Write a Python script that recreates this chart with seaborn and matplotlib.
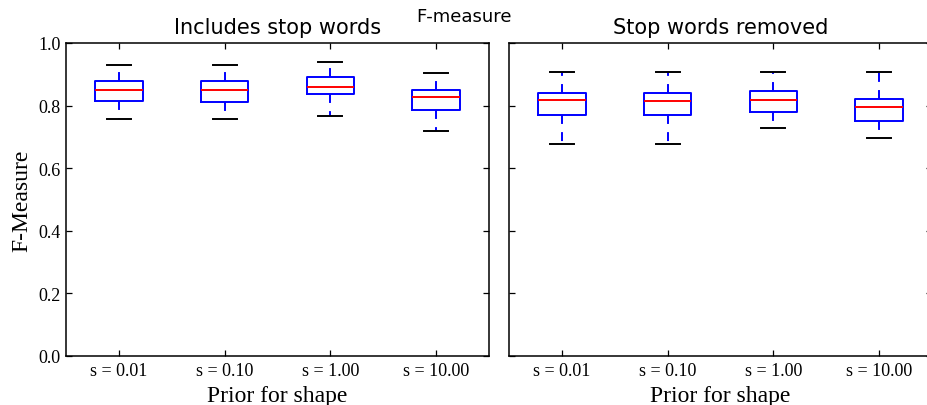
import matplotlib
matplotlib.use("Agg")
import matplotlib.pyplot as plt
import seaborn as sns
import pandas as pd

priors = ["s = 0.01", "s = 0.10", "s = 1.00", "s = 10.00"]
y_ticks = [0.0, 0.2, 0.4, 0.6, 0.8, 1.0]
y_tick_labels = ["0.0", "0.2", "0.4", "0.6", "0.8", "1.0"]

# Five-number summaries: [lower cap, Q1, median, Q3, upper cap]
includes_s001 = [0.758, 0.816, 0.851, 0.877, 0.929]
includes_s010 = [0.758, 0.813, 0.851, 0.880, 0.929]
includes_s100 = [0.766, 0.837, 0.858, 0.890, 0.939]
includes_s1000 = [0.720, 0.786, 0.829, 0.851, 0.904]

removed_s001 = [0.678, 0.770, 0.817, 0.841, 0.908]
removed_s010 = [0.678, 0.769, 0.814, 0.841, 0.908]
removed_s100 = [0.728, 0.778, 0.818, 0.848, 0.908]
removed_s1000 = [0.695, 0.751, 0.796, 0.822, 0.908]

panels = [
    ("Includes stop words", [includes_s001, includes_s010, includes_s100, includes_s1000]),
    ("Stop words removed", [removed_s001, removed_s010, removed_s100, removed_s1000]),
]

serif = ["Liberation Serif", "DejaVu Serif"]
sans = ["DejaVu Sans"]

plt.rcParams["lines.dashed_pattern"] = [4.6, 4.2]

fig = plt.figure(figsize=(9.27, 4.06), dpi=100)
W, H = 927.0, 406.0
ax_w = (489 - 66) / W
ax_h = (357 - 44) / H
ax_y = (H - 357) / H
lefts = [66 / W, 509 / W]

for i, (title, groups) in enumerate(panels):
    ax = fig.add_axes([lefts[i], ax_y, ax_w, ax_h])
    rows = []
    for label, vals in zip(priors, groups):
        for v in vals:
            rows.append({"prior": label, "f": v})
    df = pd.DataFrame(rows)
    sns.boxplot(
        data=df, x="prior", y="f", order=priors, ax=ax,
        whis=(0, 100), width=0.45, fill=False, color="blue",
        linewidth=1.4, showfliers=False,
        boxprops=dict(color="blue"),
        medianprops=dict(color="red", linewidth=1.4),
        whiskerprops=dict(color="blue", linestyle="--", linewidth=1.4),
        capprops=dict(color="black", linewidth=1.4),
    )
    ax.set_xlim(-0.5, 3.5)
    ax.set_ylim(0.0, 1.0)
    ax.set_yticks(y_ticks)
    ax.set_title(title, family=sans, fontsize=15, pad=7)
    ax.set_xlabel("Prior for shape", family=serif, fontsize=17, labelpad=5)
    for sp in ax.spines.values():
        sp.set_visible(True)
        sp.set_linewidth(1.1)
        sp.set_color("black")
    ax.tick_params(direction="in", length=4.5, width=0.9, top=True, right=True,
                   labelsize=13, pad=4)
    for t in ax.get_xticklabels():
        t.set_family(serif)
    if i == 0:
        ax.set_yticklabels(y_tick_labels, family=serif)
        ax.set_ylabel("F-Measure", family=serif, fontsize=17)
        ax.yaxis.set_label_coords(-0.08, 0.5)
    else:
        ax.set_yticklabels([])
        ax.set_ylabel("")
    ax.grid(False)

fig.text(0.5, 0.958, "F-measure", ha="center", va="center", family=sans, fontsize=13)

fig.savefig("out.png", dpi=100)
